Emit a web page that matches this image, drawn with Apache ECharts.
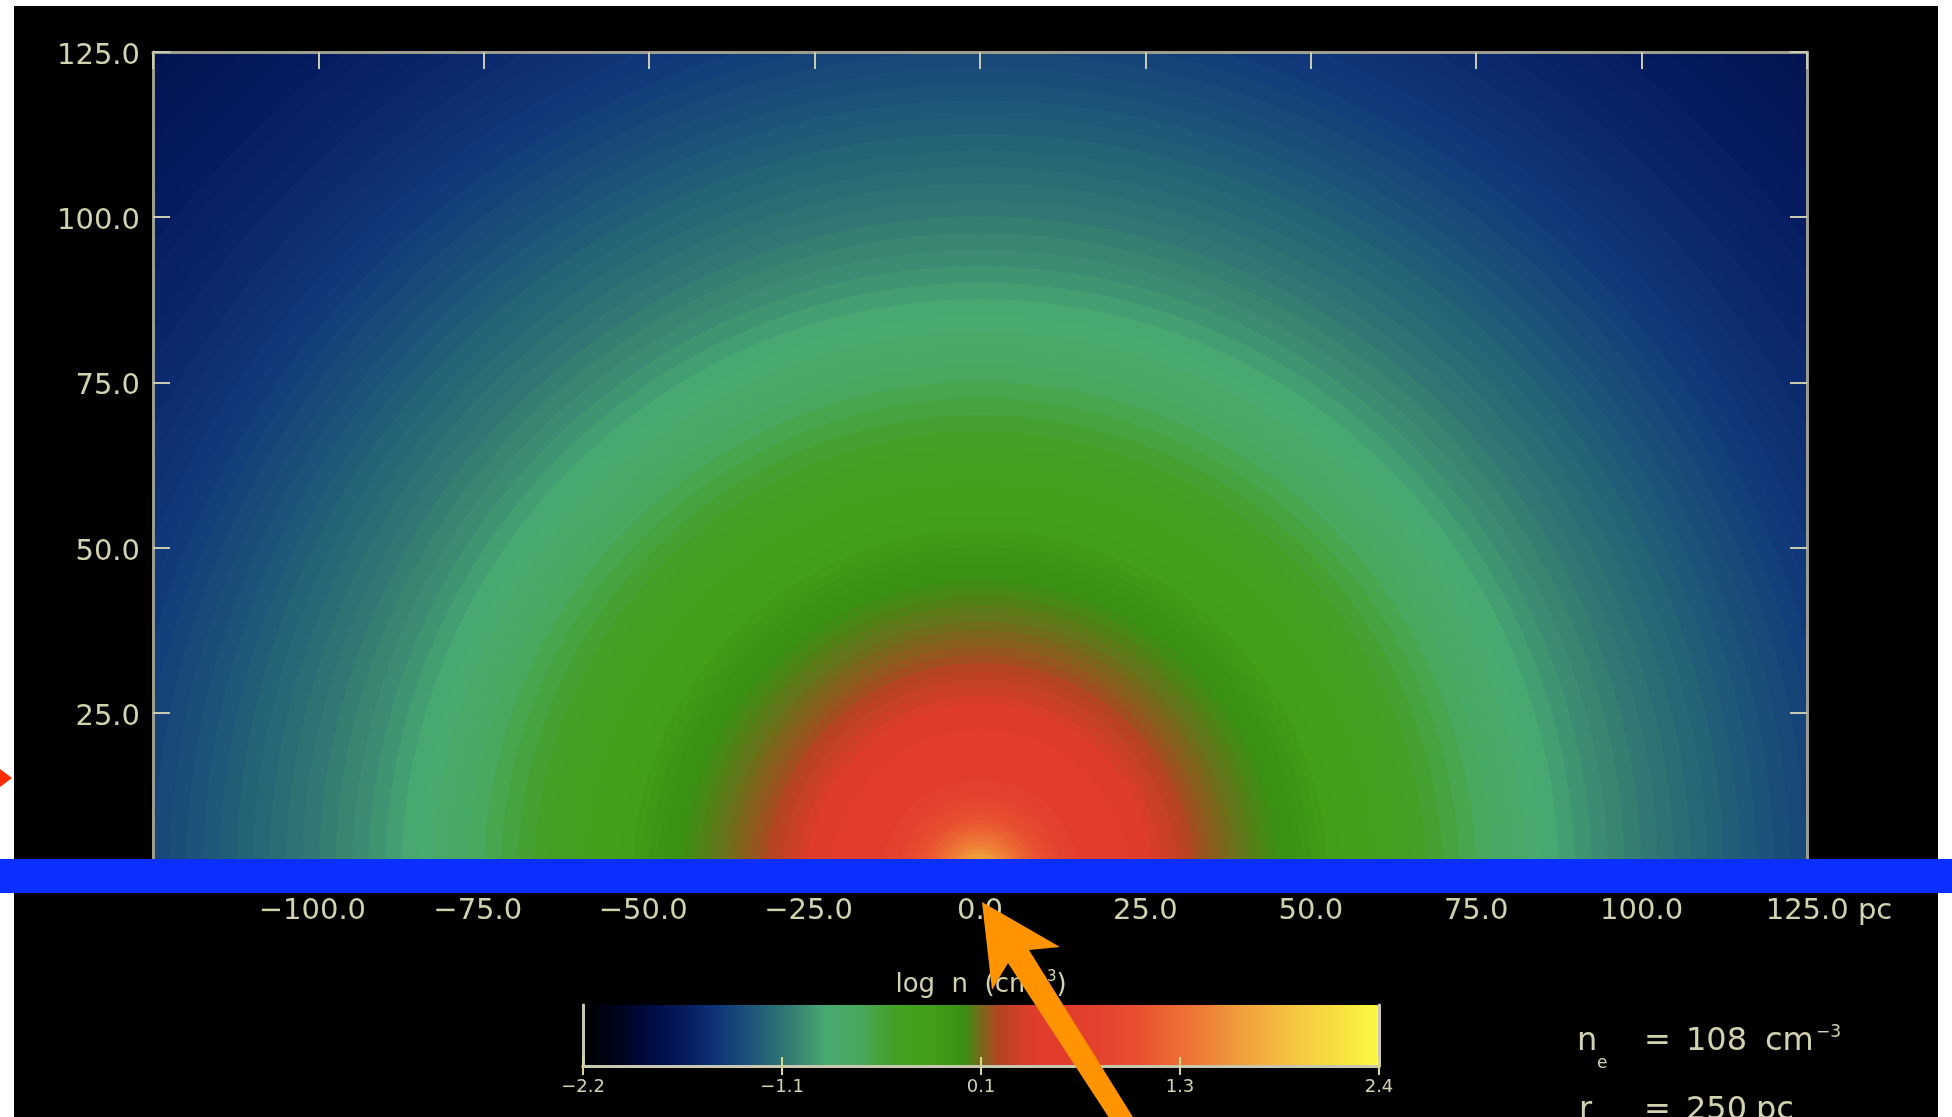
<!DOCTYPE html>
<html><head><meta charset="utf-8">
<script src="https://cdn.jsdelivr.net/npm/echarts@6/dist/echarts.min.js"></script>
<style>html,body{margin:0;padding:0;background:#fff;}#c{width:1952px;height:1117px;}</style>
</head><body><div id="c"></div>
<script>
// ---- data ----
// radial profile of log n (cm^-3) around the centre (0,0), radius in pc
const radii = [0.625,1.25,1.875,2.5,3.125,3.75,4.375,5,5.625,6.25,6.875,7.5,8.125,8.75,9.375,10,10.625,11.25,11.875,12.5,13.75,15,17.5,20,22.5,25,26.25,27.5,28.75,30,31.25,32.5,33.75,35,36.25,37.5,38.75,40,41.25,42.5,43.75,45,46.25,47.5,48.75,50,51.25,52.5,55,57.5,60,62.5,65,67.5,70,72.5,75,77.5,80,82.5,85,87.5,90,92.5,95,97.5,100,102.5,105,107.5,110,112.5,115,117.5,120,122.5,125,127.5,130,132.5,135,137.5,140,142.5,145,147.5,150,152.5,155,157.5,160,162.5,165,167.5,170,172.5,175,177.5,180];
const logN = [1.90,1.85,1.80,1.74,1.66,1.58,1.50,1.42,1.35,1.29,1.23,1.17,1.11,1.06,1.01,0.97,0.93,0.89,0.85,0.82,0.75,0.69,0.61,0.55,0.49,0.43,0.40,0.36,0.32,0.28,0.24,0.20,0.17,0.15,0.13,0.11,0.09,0.07,0.055,0.04,0.025,0.01,-0.01,-0.03,-0.055,-0.08,-0.11,-0.14,-0.20,-0.25,-0.29,-0.33,-0.37,-0.41,-0.45,-0.50,-0.55,-0.61,-0.67,-0.72,-0.76,-0.81,-0.85,-0.89,-0.93,-0.96,-0.99,-1.03,-1.06,-1.09,-1.12,-1.15,-1.18,-1.21,-1.24,-1.27,-1.30,-1.33,-1.36,-1.39,-1.41,-1.43,-1.45,-1.47,-1.49,-1.51,-1.53,-1.55,-1.56,-1.58,-1.60,-1.61,-1.63,-1.64,-1.66,-1.67,-1.69,-1.70,-1.71];
const centre = [0, 0];

const xTickValues = [-125,-100,-75,-50,-25,0,25,50,75,100,125];
const xTickLabels = ['','−100.0','−75.0','−50.0','−25.0','0.0','25.0','50.0','75.0','100.0','125.0 pc'];
const yTickValues = [0,25,50,75,100,125];
const yTickLabels = ['','25.0','50.0','75.0','100.0','125.0'];

const cbarMin = -2.2, cbarMax = 2.4;
const cbarLabels = ['−2.2','−1.1','0.1','1.3','2.4'];
// colour table sampled along the colour bar every 0.2 from -2.2 to 2.4
const cmapColors = ['#000000','#00041c','#000c44','#061c60','#10387a','#205a78','#347c72','#48aa72','#48a85c','#44a024','#42a018','#3a9014','#b44422','#e03c2c','#e23c2c','#e4442e','#e85030','#ec6634','#ee8036','#f09e3c','#f4b840','#f6d040','#f8e440','#fafa44'];

const textCol = '#d2d2ae';
const frameCol = '#9c9c8e';
const FONT = '"DejaVu Sans", "Liberation Sans", sans-serif';

const ringData = radii.map((r, i) => [r, logN[i]]).reverse();

const chart = echarts.init(document.getElementById('c'), null, {renderer: 'canvas'});

function xLabel(v) {
  const i = xTickValues.indexOf(v);
  if (i < 0) return '';
  const s = xTickLabels[i];
  if (s.indexOf(' pc') > 0) return '{lp| }' + s;
  if (s.charAt(0) === '−') return s + '{rp| }';
  return s;
}

const mainX = (pos, labels) => ({
  type: 'value', gridIndex: 0, position: pos, min: -125, max: 125, interval: 25, z: 10,
  axisLine: {show: true, onZero: false, lineStyle: {color: frameCol, width: 3}},
  axisTick: {show: true, inside: true, length: 17, lineStyle: {color: '#c6cab0', width: 2}},
  splitLine: {show: false},
  axisLabel: labels ? {
    show: true, showMinLabel: false, margin: 19, color: textCol, fontSize: 29, fontFamily: FONT,
    formatter: xLabel,
    rich: {lp: {width: 44, fontSize: 29}, rp: {width: 12, fontSize: 29}}
  } : {show: false}
});
const mainY = (pos, labels) => ({
  type: 'value', gridIndex: 0, position: pos, min: 0, max: 125, interval: 25, z: 10,
  axisLine: {show: true, onZero: false, lineStyle: {color: frameCol, width: 3}},
  axisTick: {show: true, inside: true, length: 17, lineStyle: {color: '#c6cab0', width: 2}},
  splitLine: {show: false},
  axisLabel: labels ? {
    show: true, showMinLabel: false, margin: 13, color: textCol, fontSize: 29, fontFamily: FONT,
    formatter: v => { const i = yTickValues.indexOf(v); return i >= 0 && yTickLabels[i] ? '{d|' + yTickLabels[i] + '}' : ''; },
    rich: {d: {fontSize: 29, color: textCol, fontFamily: FONT, padding: [9, 0, 0, 0]}}
  } : {show: false}
});
const cbX = (pos, labels) => ({
  type: 'category', gridIndex: 1, position: pos, data: cbarLabels, boundaryGap: false, z: 10,
  axisLine: {show: true, lineStyle: {color: '#c8c8b0', width: 3}},
  axisTick: {show: true, inside: true, length: 9, interval: 0, lineStyle: {color: '#d8d890', width: 2}},
  splitLine: {show: false},
  axisLabel: labels ? {show: true, interval: 0, margin: 12, color: textCol, fontSize: 18, fontFamily: FONT} : {show: false},
  name: labels ? '' : 'log  n  (cm{sup|−3})',
  nameLocation: 'middle', nameGap: 5,
  nameTextStyle: {color: textCol, fontSize: 26, fontFamily: FONT,
    rich: {sup: {fontSize: 15, color: textCol, fontFamily: FONT, padding: [0, 0, 15, 0]}}}
});
const cbY = (pos) => ({
  type: 'value', gridIndex: 1, position: pos, min: 0, max: 1, z: 10,
  axisLine: {show: true, lineStyle: {color: '#c8c8b0', width: 3}},
  axisTick: {show: false}, axisLabel: {show: false}, splitLine: {show: false}
});

const txt = (x, y, s, size) => ({
  type: 'text', x: x, y: y, z: 50,
  style: {text: s, fill: textCol, font: size + 'px ' + FONT, textAlign: 'left', align: 'left', textVerticalAlign: 'middle', verticalAlign: 'middle'}
});

chart.setOption({
  animation: false,
  backgroundColor: '#ffffff',
  textStyle: {fontFamily: FONT},
  grid: [
    {left: 153, top: 52, width: 1654, height: 826, show: false},
    {left: 583, top: 1005, width: 796, height: 61, show: false}
  ],
  xAxis: [mainX('bottom', true), mainX('top', false), cbX('bottom', true), cbX('top', false)],
  yAxis: [mainY('left', true), mainY('right', false), cbY('left'), cbY('right')],
  visualMap: {
    type: 'continuous', min: cbarMin, max: cbarMax, dimension: 1, seriesIndex: 0,
    orient: 'horizontal', left: 583, top: 1005, itemWidth: 61, itemHeight: 796,
    padding: 0, calculable: false, hoverLink: false, showLabel: false, text: null,
    inRange: {color: cmapColors}, z: 4
  },
  series: [{
    type: 'custom', xAxisIndex: 0, yAxisIndex: 0, data: ringData, clip: true, silent: true,
    renderItem: function (params, api) {
      const r = api.value(0);
      const c = api.coord(centre);
      const s = api.size([r, r]);
      const cs = params.coordSys;
      return {
        type: 'circle',
        shape: {cx: c[0], cy: c[1], r: s[0]},
        style: {fill: api.visual('color')},
        clipPath: {type: 'rect', shape: {x: cs.x, y: cs.y, width: cs.width, height: cs.height}}
      };
    }
  }],
  graphic: {elements: [
    {type: 'rect', z: -10, shape: {x: 14, y: 6, width: 1924, height: 1111}, style: {fill: '#000000'}},
    txt(1577, 1042, 'n', 32), txt(1597, 1064, 'e', 17), txt(1644, 1042, '=', 32),
    txt(1686, 1042, '108', 32), txt(1765, 1042, 'cm', 32), txt(1816, 1033, '−3', 17),
    txt(1579, 1111, 'r', 32), txt(1644, 1111, '=', 32), txt(1686, 1111, '250', 32), txt(1756, 1111, 'pc', 32),
    {type: 'rect', z: 100, shape: {x: 0, y: 859, width: 1952, height: 34}, style: {fill: '#0b2fff'}},
    {type: 'polygon', z: 101, shape: {points: [[982,902],[1060,947],[1029,950],[1141,1130],[1117,1130],[1008,963],[992,990]]}, style: {fill: '#ff9300'}},
    {type: 'polygon', z: 100, shape: {points: [[0,769],[12,778],[0,787]]}, style: {fill: '#ff2a00'}}
  ]}
});
</script></body></html>
